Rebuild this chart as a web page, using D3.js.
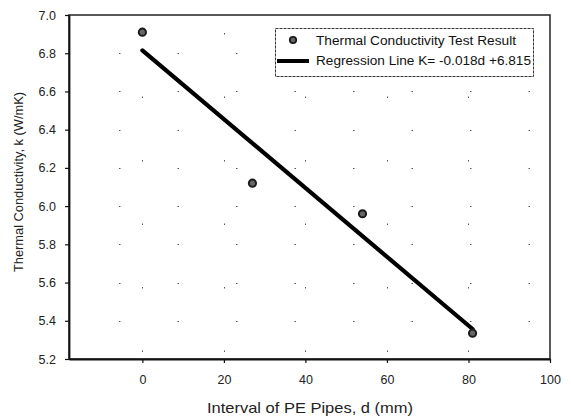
<!DOCTYPE html>
<html>
<head>
<meta charset="utf-8">
<script src="https://cdn.jsdelivr.net/npm/d3@7"></script>
<style>
  body { margin: 0; background: #fff; }
  svg { display: block; font-family: "Liberation Sans", Arial, sans-serif; }
</style>
</head>
<body>
<svg id="chart" width="571" height="419"></svg>
<script>
// Measured thermal conductivity versus PE pipe spacing
const intervals = [0, 27, 54, 81];
const conductivity = [6.91, 6.12, 5.96, 5.335];

// Fitted regression line K = slope*d + intercept
const slope = -0.018;
const intercept = 6.815;
const fitRange = [0, 81];

const xTicks = [0, 20, 40, 60, 80, 100];
const yTicks = [5.2, 5.4, 5.6, 5.8, 6.0, 6.2, 6.4, 6.6, 6.8, 7.0];

const legendLabels = ["Thermal Conductivity Test Result", "Regression Line K= -0.018d +6.815"];

const svg = d3.select("#chart");
const plotL = 69, plotR = 550, plotT = 15, plotB = 359;

const x = d3.scaleLinear().domain([-18, 100]).range([plotL, plotR]);
const y = d3.scaleLinear().domain([5.2, 7.0]).range([plotB, plotT]);

// sparse dotted grid
const grid = svg.append("g").attr("stroke", "#555").attr("stroke-width", 1);
yTicks.slice(1, -1).forEach(v => {
  grid.append("line")
    .attr("x1", plotL).attr("x2", plotR)
    .attr("y1", Math.round(y(v)) + 0.5).attr("y2", Math.round(y(v)) + 0.5)
    .attr("stroke-dasharray", "1.5,57").attr("stroke-dashoffset", -50);
});
xTicks.slice(0, -1).forEach(v => {
  grid.append("line")
    .attr("x1", Math.round(x(v)) + 0.5).attr("x2", Math.round(x(v)) + 0.5)
    .attr("y1", plotT).attr("y2", plotB)
    .attr("stroke-dasharray", "1.5,62").attr("stroke-dashoffset", -18);
});

// plot frame
svg.append("rect")
  .attr("x", plotL).attr("y", plotT)
  .attr("width", plotR - plotL).attr("height", plotB - plotT)
  .attr("fill", "none").attr("stroke", "#222").attr("stroke-width", 1.5);

// axes
const xAxis = svg.append("g")
  .attr("transform", `translate(0,${plotB})`)
  .call(d3.axisBottom(x).tickValues(xTicks).tickSize(4).tickSizeOuter(0).tickFormat(d3.format("d")));
const yAxis = svg.append("g")
  .attr("transform", `translate(${plotL},0)`)
  .call(d3.axisLeft(y).tickValues(yTicks).tickSize(4).tickSizeOuter(0).tickFormat(d3.format(".1f")));

[xAxis, yAxis].forEach(a => {
  a.select(".domain").attr("stroke", "#111").attr("stroke-width", 1.8);
  a.selectAll(".tick line").attr("stroke", "#111").attr("stroke-width", 1.2);
  a.selectAll(".tick text").attr("font-size", 12.5).attr("fill", "#222")
    .attr("font-family", "Liberation Sans, Arial, sans-serif");
});
xAxis.selectAll(".tick text").attr("dy", "1.4em");
yAxis.selectAll(".tick text").attr("x", -13);

// axis titles
svg.append("text")
  .attr("x", 207).attr("y", 413)
  .attr("font-size", 15).attr("fill", "#222")
  .attr("textLength", 206).attr("lengthAdjust", "spacingAndGlyphs")
  .text("Interval of PE Pipes, d (mm)");
svg.append("text")
  .attr("transform", "translate(23,272) rotate(-90)")
  .attr("font-size", 12).attr("fill", "#222")
  .attr("textLength", 180).attr("lengthAdjust", "spacingAndGlyphs")
  .text("Thermal Conductivity, k (W/mK)");

// regression line
svg.append("line")
  .attr("x1", x(fitRange[0])).attr("y1", y(slope * fitRange[0] + intercept))
  .attr("x2", x(fitRange[1])).attr("y2", y(slope * fitRange[1] + intercept))
  .attr("stroke", "#000").attr("stroke-width", 4.2).attr("stroke-linecap", "round");

// test results
svg.append("g").selectAll("circle")
  .data(intervals.map((d, i) => [d, conductivity[i]]))
  .join("circle")
  .attr("cx", d => x(d[0])).attr("cy", d => y(d[1]))
  .attr("r", 3.6)
  .attr("fill", "#666").attr("stroke", "#1a1a1a").attr("stroke-width", 2);

// legend
const lg = svg.append("g");
lg.append("rect")
  .attr("x", 275.5).attr("y", 28.5).attr("width", 258).attr("height", 48)
  .attr("fill", "#fff").attr("stroke", "#333").attr("stroke-width", 1)
  .attr("stroke-dasharray", "3,1");
lg.append("circle").attr("cx", 293).attr("cy", 40).attr("r", 3.2)
  .attr("fill", "#666").attr("stroke", "#1a1a1a").attr("stroke-width", 1.8);
lg.append("line").attr("x1", 277).attr("x2", 309).attr("y1", 61).attr("y2", 61)
  .attr("stroke", "#000").attr("stroke-width", 4);
const legendWidths = [200, 215];
legendLabels.forEach((t, i) => {
  lg.append("text")
    .attr("x", 316).attr("y", 44.5 + i * 20.5)
    .attr("font-size", 12.5).attr("fill", "#111")
    .attr("textLength", legendWidths[i]).attr("lengthAdjust", "spacingAndGlyphs")
    .text(t);
});
</script>
</body>
</html>
